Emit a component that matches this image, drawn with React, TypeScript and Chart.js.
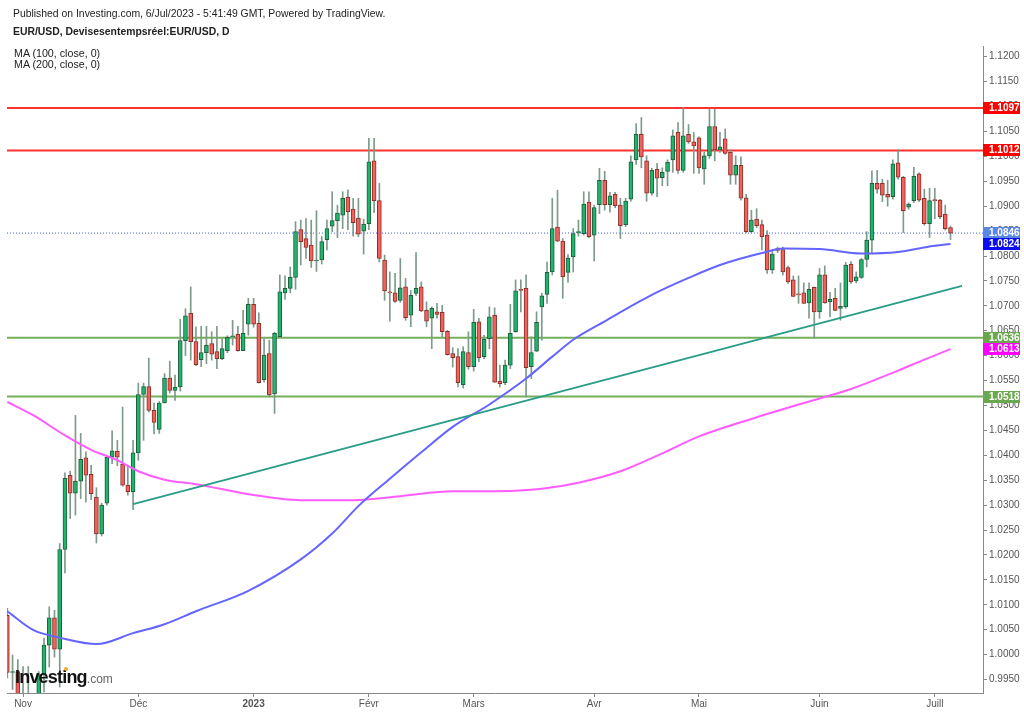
import { useEffect, useRef } from "react";
import { Chart, registerables } from "chart.js";

Chart.register(...registerables);

// first trading day shown; one slot per weekday after it
const startDate = "2022-10-27";

const opens = [
  1.0079, 0.9964, 0.9966, 0.9882, 0.9876, 0.9818, 0.9750, 0.9960, 1.0019, 1.0074,
  1.0011, 1.0211, 1.0360, 1.0324, 1.0348, 1.0395, 1.0362, 1.0316, 1.0242, 1.0304,
  1.0396, 1.0408, 1.0382, 1.0340, 1.0327, 1.0405, 1.0522, 1.0538, 1.0490, 1.0452,
  1.0505, 1.0555, 1.0530, 1.0537, 1.0630, 1.0685, 1.0628, 1.0592, 1.0606, 1.0624,
  1.0608, 1.0594, 1.0610, 1.0638, 1.0643, 1.0610, 1.0663, 1.0703, 1.0665, 1.0552,
  1.0604, 1.0523, 1.0638, 1.0726, 1.0735, 1.0757, 1.0853, 1.0835, 1.0822, 1.0790,
  1.0792, 1.0833, 1.0860, 1.0871, 1.0882, 1.0918, 1.0894, 1.0876, 1.0850, 1.0865,
  1.0991, 1.0911, 1.0792, 1.0728, 1.0726, 1.0711, 1.0738, 1.0681, 1.0725, 1.0738,
  1.0691, 1.0675, 1.0688, 1.0687, 1.0649, 1.0604, 1.0598, 1.0542, 1.0606, 1.0578,
  1.0668, 1.0598, 1.0634, 1.0681, 1.0549, 1.0546, 1.0581, 1.0648, 1.0732, 1.0735,
  1.0578, 1.0609, 1.0698, 1.0723, 1.0768, 1.0858, 1.0830, 1.0767, 1.0798, 1.0847,
  1.0845, 1.0908, 1.0842, 1.0903, 1.0952, 1.0903, 1.0924, 1.0902, 1.0863, 1.0914,
  1.0993, 1.1044, 1.0991, 1.0926, 1.0974, 1.0957, 1.0970, 1.0993, 1.1048, 1.0972,
  1.1044, 1.1029, 1.1037, 1.0975, 1.1001, 1.1060, 1.1013, 1.1035, 1.1008, 1.0962,
  1.0982, 1.0917, 1.0849, 1.0874, 1.0863, 1.0842, 1.0772, 1.0815, 1.0813, 1.0777,
  1.0752, 1.0723, 1.0726, 1.0706, 1.0737, 1.0688, 1.0762, 1.0708, 1.0715, 1.0695,
  1.0698, 1.0784, 1.0750, 1.0757, 1.0793, 1.0832, 1.0946, 1.0946, 1.0924, 1.0919,
  1.0987, 1.0958, 1.0898, 1.0911, 1.0965, 1.0916, 1.0865, 1.0912, 1.0912, 1.0884,
  1.0857,
];

const highs = [
  1.0093, 0.9999, 0.9990, 0.9976, 0.9976, 0.9840, 0.9966, 1.0033, 1.0096, 1.0089,
  1.0223, 1.0365, 1.0368, 1.0480, 1.0444, 1.0407, 1.0380, 1.0335, 1.0304, 1.0397,
  1.0449, 1.0430, 1.0497, 1.0380, 1.0430, 1.0545, 1.0545, 1.0595, 1.0505, 1.0508,
  1.0564, 1.0589, 1.0561, 1.0673, 1.0694, 1.0738, 1.0658, 1.0659, 1.0659, 1.0648,
  1.0659, 1.0634, 1.0640, 1.0671, 1.0659, 1.0691, 1.0715, 1.0715, 1.0686, 1.0634,
  1.0631, 1.0647, 1.0762, 1.0760, 1.0778, 1.0869, 1.0872, 1.0875, 1.0872, 1.0891,
  1.0839, 1.0872, 1.0929, 1.0902, 1.0929, 1.0933, 1.0916, 1.0916, 1.0874, 1.1036,
  1.1036, 1.0946, 1.0802, 1.0768, 1.0765, 1.0795, 1.0755, 1.0731, 1.0807, 1.0748,
  1.0708, 1.0698, 1.0705, 1.0701, 1.0651, 1.0616, 1.0614, 1.0618, 1.0648, 1.0693,
  1.0675, 1.0641, 1.0698, 1.0696, 1.0581, 1.0591, 1.0703, 1.0752, 1.0752, 1.0762,
  1.0638, 1.0688, 1.0725, 1.0788, 1.0916, 1.0932, 1.0835, 1.0803, 1.0855, 1.0872,
  1.0929, 1.0929, 1.0902, 1.0976, 1.0970, 1.0928, 1.0928, 1.0916, 1.0916, 1.1001,
  1.1066, 1.1078, 1.1001, 1.0976, 1.0986, 1.0977, 1.0993, 1.1053, 1.1068, 1.1098,
  1.1064, 1.1048, 1.1039, 1.1009, 1.1095, 1.1095, 1.1048, 1.1055, 1.1013, 1.1001,
  1.0999, 1.0924, 1.0892, 1.0895, 1.0872, 1.0851, 1.0812, 1.0818, 1.0818, 1.0780,
  1.0760, 1.0760, 1.0746, 1.0746, 1.0738, 1.0775, 1.0780, 1.0727, 1.0735, 1.0746,
  1.0787, 1.0789, 1.0768, 1.0795, 1.0849, 1.0971, 1.0972, 1.0954, 1.0952, 1.0993,
  1.1013, 1.0960, 1.0907, 1.0978, 1.0967, 1.0934, 1.0936, 1.0936, 1.0914, 1.0902,
  1.0860,
];

const lows = [
  0.9953, 0.9930, 0.9872, 0.9853, 0.9814, 0.9730, 0.9740, 0.9925, 0.9975, 0.9995,
  0.9935, 1.0164, 1.0273, 1.0280, 1.0313, 1.0306, 1.0311, 1.0224, 1.0238, 1.0300,
  1.0383, 1.0379, 1.0338, 1.0320, 1.0291, 1.0390, 1.0430, 1.0487, 1.0443, 1.0444,
  1.0505, 1.0525, 1.0510, 1.0529, 1.0600, 1.0591, 1.0580, 1.0578, 1.0584, 1.0591,
  1.0574, 1.0592, 1.0606, 1.0621, 1.0609, 1.0610, 1.0641, 1.0657, 1.0545, 1.0547,
  1.0517, 1.0484, 1.0636, 1.0713, 1.0726, 1.0733, 1.0782, 1.0795, 1.0777, 1.0769,
  1.0784, 1.0812, 1.0849, 1.0837, 1.0855, 1.0853, 1.0840, 1.0839, 1.0804, 1.0853,
  1.0887, 1.0788, 1.0711, 1.0669, 1.0707, 1.0707, 1.0671, 1.0658, 1.0721, 1.0688,
  1.0658, 1.0614, 1.0675, 1.0638, 1.0601, 1.0577, 1.0537, 1.0535, 1.0573, 1.0569,
  1.0588, 1.0594, 1.0614, 1.0546, 1.0537, 1.0542, 1.0574, 1.0647, 1.0688, 1.0517,
  1.0554, 1.0608, 1.0631, 1.0705, 1.0762, 1.0829, 1.0715, 1.0747, 1.0768, 1.0840,
  1.0842, 1.0837, 1.0790, 1.0885, 1.0892, 1.0888, 1.0897, 1.0835, 1.0859, 1.0910,
  1.0984, 1.0977, 1.0910, 1.0922, 1.0919, 1.0941, 1.0941, 1.0968, 1.0966, 1.0968,
  1.1026, 1.0966, 1.0966, 1.0944, 1.0996, 1.0991, 1.1008, 1.1004, 1.0944, 1.0944,
  1.0912, 1.0847, 1.0847, 1.0857, 1.0812, 1.0765, 1.0765, 1.0807, 1.0762, 1.0745,
  1.0718, 1.0705, 1.0705, 1.0675, 1.0635, 1.0675, 1.0705, 1.0678, 1.0690, 1.0671,
  1.0695, 1.0745, 1.0746, 1.0755, 1.0778, 1.0805, 1.0926, 1.0909, 1.0900, 1.0914,
  1.0954, 1.0847, 1.0894, 1.0907, 1.0909, 1.0862, 1.0837, 1.0875, 1.0875, 1.0852,
  1.0833,
];

const closes = [
  0.9964, 0.9966, 0.9882, 0.9876, 0.9818, 0.9750, 0.9960, 1.0019, 1.0074, 1.0011,
  1.0211, 1.0354, 1.0324, 1.0348, 1.0392, 1.0360, 1.0323, 1.0242, 1.0300, 1.0396,
  1.0409, 1.0396, 1.0340, 1.0327, 1.0405, 1.0522, 1.0538, 1.0490, 1.0466, 1.0505,
  1.0555, 1.0530, 1.0537, 1.0630, 1.0680, 1.0628, 1.0582, 1.0606, 1.0621, 1.0603,
  1.0594, 1.0614, 1.0637, 1.0639, 1.0610, 1.0645, 1.0703, 1.0663, 1.0546, 1.0601,
  1.0521, 1.0645, 1.0728, 1.0735, 1.0757, 1.0849, 1.0829, 1.0817, 1.0790, 1.0792,
  1.0829, 1.0855, 1.0871, 1.0886, 1.0916, 1.0889, 1.0867, 1.0844, 1.0864, 1.0989,
  1.0911, 1.0795, 1.0730, 1.0726, 1.0709, 1.0736, 1.0676, 1.0721, 1.0735, 1.0690,
  1.0669, 1.0695, 1.0683, 1.0648, 1.0602, 1.0596, 1.0546, 1.0608, 1.0578, 1.0667,
  1.0596, 1.0633, 1.0678, 1.0547, 1.0544, 1.0581, 1.0645, 1.0730, 1.0731, 1.0576,
  1.0606, 1.0667, 1.0720, 1.0767, 1.0855, 1.0830, 1.0758, 1.0796, 1.0845, 1.0849,
  1.0904, 1.0839, 1.0897, 1.0952, 1.0903, 1.0921, 1.0901, 1.0861, 1.0910, 1.0989,
  1.1044, 1.0999, 1.0926, 1.0972, 1.0956, 1.0968, 1.0988, 1.1041, 1.0972, 1.1041,
  1.1029, 1.1021, 1.0977, 1.1001, 1.1060, 1.1013, 1.1019, 1.1006, 1.0962, 1.0982,
  1.0916, 1.0849, 1.0872, 1.0861, 1.0839, 1.0772, 1.0804, 1.0811, 1.0768, 1.0748,
  1.0719, 1.0722, 1.0705, 1.0733, 1.0688, 1.0762, 1.0706, 1.0713, 1.0691, 1.0699,
  1.0782, 1.0748, 1.0758, 1.0793, 1.0832, 1.0946, 1.0934, 1.0922, 1.0918, 1.0985,
  1.0958, 1.0891, 1.0904, 1.0960, 1.0912, 1.0865, 1.0911, 1.0911, 1.0879, 1.0855,
  1.0846,
];

const ma100Idx = [0, 5, 10, 17, 24, 30, 36, 46, 56, 62, 67, 73, 79, 85, 92, 99, 104, 108, 114, 123, 130, 136, 144, 148, 155, 163, 170, 176, 180];
const ma100Val = [1.0087, 1.0049, 1.0034, 1.0021, 1.0043, 1.0061, 1.0087, 1.0128, 1.0191, 1.0243, 1.0298, 1.0353, 1.0406, 1.0457, 1.0502, 1.0554, 1.0598, 1.0632, 1.0669, 1.0722, 1.0756, 1.0782, 1.0806, 1.0815, 1.0814, 1.0805, 1.0808, 1.0819, 1.0824];
const ma200Idx = [0, 5, 11, 16, 21, 25, 30, 36, 46, 56, 66, 75, 85, 94, 102, 109, 117, 125, 132, 142, 151, 161, 170, 175, 180];
const ma200Val = [1.0507, 1.0480, 1.0440, 1.0411, 1.0390, 1.0368, 1.0351, 1.0342, 1.0322, 1.0310, 1.0310, 1.0318, 1.0328, 1.0328, 1.0333, 1.0345, 1.0368, 1.0404, 1.0438, 1.0473, 1.0502, 1.0533, 1.0570, 1.0592, 1.0613];

const resistanceLevels = [1.1097, 1.1012];
const supportLevels = [1.0636, 1.0518];
const trendIdx = [24, 182.2];
const trendVal = [1.0302, 1.074];

const monthLabels = ["Nov", "Déc", "2023", "Févr", "Mars", "Avr", "Mai", "Juin", "Juill"];
const priceTicks = [
  0.995, 1.0, 1.005, 1.01, 1.015, 1.02, 1.025, 1.03, 1.035, 1.04, 1.045, 1.05, 1.055,
  1.06, 1.065, 1.07, 1.075, 1.08, 1.085, 1.09, 1.095, 1.1, 1.105, 1.11, 1.115, 1.12,
];

const FONT = "'Liberation Sans', Arial, Helvetica, sans-serif";
const UP = "#1fb36b";
const DOWN = "#f0625c";
const UP_EDGE = "#1d5e3b";
const DOWN_EDGE = "#8a2f2a";
const WICK = "#7d9a8a";
const X_MIN = -0.06;
const X_MAX = 186.2;

function weekdayDates(start: string, n: number) {
  const out: Date[] = [];
  const d = new Date(start + "T00:00:00Z");
  while (out.length < n) {
    const wd = d.getUTCDay();
    if (wd !== 0 && wd !== 6) out.push(new Date(d));
    d.setUTCDate(d.getUTCDate() + 1);
  }
  return out;
}

export default function App() {
  const canvasRef = useRef<HTMLCanvasElement>(null);
  const chartRef = useRef<Chart | null>(null);

  useEffect(() => {
    if (!canvasRef.current) return;
    const ctx = canvasRef.current.getContext("2d");
    if (!ctx) return;
    if (chartRef.current) chartRef.current.destroy();

    const dates = weekdayDates(startDate, closes.length);
    const monthTickIdx: number[] = [];
    dates.forEach((d, i) => {
      if (i > 0 && d.getUTCMonth() !== dates[i - 1].getUTCMonth()) monthTickIdx.push(i);
    });

    const lastClose = closes[closes.length - 1];
    const tags = [
      { value: resistanceLevels[0], color: "#ff0000" },
      { value: resistanceLevels[1], color: "#ff0000" },
      { value: lastClose, color: "#5a86e4" },
      { value: ma100Val[ma100Val.length - 1], color: "#0c0cf2" },
      { value: supportLevels[0], color: "#6aa84f" },
      { value: ma200Val[ma200Val.length - 1], color: "#ff00ff" },
      { value: supportLevels[1], color: "#6aa84f" },
    ];

    const axisTags = {
      id: "axisTags",
      afterDraw(chart: any) {
        const c = chart.ctx;
        const y = chart.scales.y;
        c.save();
        c.font = `bold 10px ${FONT}`;
        c.textBaseline = "middle";
        c.textAlign = "left";
        tags.forEach((t) => {
          const py = Math.round(y.getPixelForValue(t.value));
          c.fillStyle = t.color;
          c.fillRect(y.left, py - 6, 37, 12);
          c.fillStyle = "#ffffff";
          c.fillText(t.value.toFixed(4), y.left + 6, py + 0.5);
        });
        c.restore();
      },
    };

    const levelLine = (v: number, color: string) => ({
      type: "line" as const,
      data: [{ x: X_MIN, y: v }, { x: X_MAX, y: v }],
      borderColor: color,
      borderWidth: 2,
      pointRadius: 0,
      order: 6,
    });

    chartRef.current = new Chart(ctx, {
      type: "bar",
      data: {
        datasets: [
          ...resistanceLevels.map((v) => levelLine(v, "#ff3030")),
          ...supportLevels.map((v) => levelLine(v, "#74b05a")),
          {
            type: "line",
            data: [{ x: X_MIN, y: lastClose }, { x: X_MAX, y: lastClose }],
            borderColor: "#3d5cff",
            borderWidth: 1,
            borderDash: [1, 2],
            pointRadius: 0,
            order: 6,
          },
          {
            type: "bar",
            data: highs.map((h, i) => ({ x: i, y: [lows[i], h] })),
            backgroundColor: WICK,
            barThickness: 1,
            grouped: false,
            order: 5,
          },
          {
            type: "bar",
            data: opens.map((o, i) => ({ x: i, y: [o, closes[i]] })),
            backgroundColor: opens.map((o, i) => (closes[i] >= o ? UP : DOWN)),
            borderColor: opens.map((o, i) => (closes[i] >= o ? UP_EDGE : DOWN_EDGE)),
            borderWidth: 1,
            borderSkipped: false,
            barThickness: 4,
            minBarLength: 1,
            grouped: false,
            order: 4,
          },
          {
            type: "line",
            data: ma100Idx.map((x, i) => ({ x, y: ma100Val[i] })),
            borderColor: "#6464ff",
            borderWidth: 2,
            pointRadius: 0,
            cubicInterpolationMode: "monotone",
            order: 2,
          },
          {
            type: "line",
            data: ma200Idx.map((x, i) => ({ x, y: ma200Val[i] })),
            borderColor: "#ff5cff",
            borderWidth: 2,
            pointRadius: 0,
            cubicInterpolationMode: "monotone",
            order: 2,
          },
          {
            type: "line",
            data: trendIdx.map((x, i) => ({ x, y: trendVal[i] })),
            borderColor: "#2a9d88",
            borderWidth: 2,
            pointRadius: 0,
            order: 1,
          },
        ] as any,
      },
      options: {
        animation: false,
        responsive: false,
        events: [],
        layout: { padding: { left: 7, top: 46, right: 0, bottom: 0 } },
        plugins: { legend: { display: false }, tooltip: { enabled: false } },
        scales: {
          x: {
            type: "linear",
            min: X_MIN,
            max: X_MAX,
            offset: false,
            afterBuildTicks: (s: any) => {
              s.ticks = monthTickIdx.map((v) => ({ value: v }));
            },
            afterFit: (s: any) => {
              s.height = 20;
            },
            ticks: {
              autoSkip: false,
              maxRotation: 0,
              padding: 1,
              color: "#555",
              font: (c: any) => ({
                family: FONT,
                size: 10,
                weight: c.tick && c.tick.label === "2023" ? "bold" : "normal",
              }),
              callback: (v: any) => monthLabels[monthTickIdx.indexOf(Number(v))] ?? "",
            },
            grid: { drawOnChartArea: false, tickLength: 4, color: "#888", offset: false },
            border: { color: "#888" },
          },
          y: {
            position: "right",
            min: 0.99229,
            max: 1.12215,
            afterBuildTicks: (s: any) => {
              s.ticks = priceTicks.map((v) => ({ value: v }));
            },
            afterFit: (s: any) => {
              s.width = 41;
            },
            ticks: {
              autoSkip: false,
              padding: 2,
              color: "#555",
              font: { family: FONT, size: 10 },
              callback: (v: any) => Number(v).toFixed(4),
            },
            grid: { drawOnChartArea: false, tickLength: 4, color: "#888" },
            border: { color: "#888" },
          },
        },
      } as any,
      plugins: [axisTags],
    });

    return () => {
      if (chartRef.current) {
        chartRef.current.destroy();
        chartRef.current = null;
      }
    };
  }, []);

  const text = { position: "absolute" as const, whiteSpace: "nowrap" as const, fontSize: 10.4, lineHeight: "13px", color: "#222" };

  return (
    <div style={{ position: "absolute", left: 0, top: 0, width: 1024, height: 713, background: "#fff", fontFamily: FONT, overflow: "hidden" }}>
      <canvas ref={canvasRef} width={1024} height={713} style={{ position: "absolute", left: 0, top: 0, width: 1024, height: 713 }} />
      <div style={{ ...text, left: 13, top: 7 }}>
        Published on Investing.com, 6/Jul/2023 - 5:41:49 GMT, Powered by TradingView.
      </div>
      <div style={{ ...text, left: 13, top: 25, fontWeight: "bold" }}>EUR/USD, Devisesentempsréel:EUR/USD, D</div>
      <div style={{ ...text, left: 14, top: 47, fontSize: 10.7 }}>MA (100, close, 0)</div>
      <div style={{ ...text, left: 14, top: 58, fontSize: 10.7 }}>MA (200, close, 0)</div>
      <div style={{ position: "absolute", left: 15, top: 668, whiteSpace: "nowrap", lineHeight: "18px" }}>
        <span style={{ fontSize: 18, fontWeight: "bold", color: "#111", letterSpacing: -0.8 }}>Investing</span>
        <span style={{ fontSize: 12, color: "#666" }}>.com</span>
      </div>
      <div style={{ position: "absolute", left: 64, top: 667, width: 4, height: 4, borderRadius: 2, background: "#f5a623" }} />
    </div>
  );
}
